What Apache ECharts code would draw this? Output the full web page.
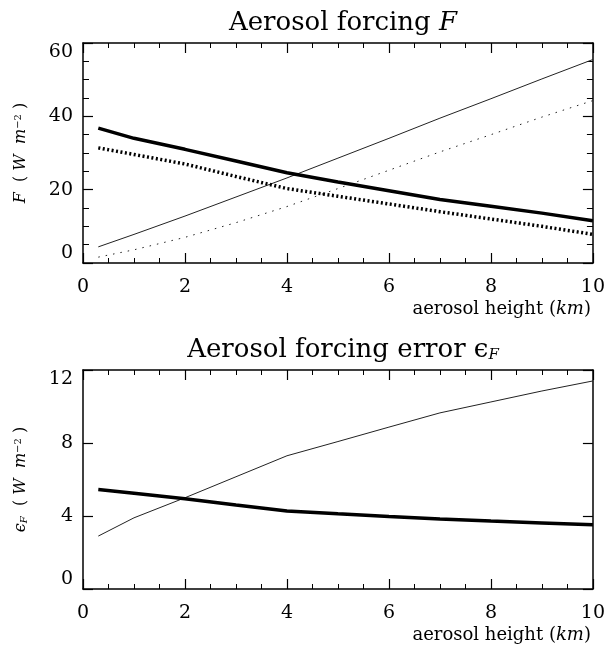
<!DOCTYPE html>
<html>
<head>
<meta charset="utf-8">
<script src="https://cdn.jsdelivr.net/npm/echarts@6/dist/echarts.min.js"></script>
<style>
  html, body { margin: 0; padding: 0; background: #fff; }
  #chart { width: 608px; height: 645px; }
</style>
</head>
<body>
<div id="chart"></div>
<script>
// aerosol heights (km)
var heights = [0.3, 1, 2, 3, 4, 5, 6, 7, 8, 9, 10];

// top panel: forcing F (W m-2)
var forcingThick = [36.8, 34.0, 31.0, 27.8, 24.6, 22.1, 19.7, 17.3, 15.5, 13.6, 11.5];
var forcingThickDot = [31.4, 29.6, 27.0, 23.6, 20.3, 18.2, 16.1, 14.0, 12.0, 10.0, 7.8];
var forcingThin = [4.4, 7.8, 12.8, 18.0, 23.2, 28.6, 34.0, 39.5, 44.8, 50.2, 55.5];
var forcingThinDot = [1.6, 3.6, 7.0, 11.0, 15.4, 20.3, 25.3, 30.3, 35.0, 39.8, 44.3];

// bottom panel: forcing error eps_F (W m-2)
var errorThick = [5.45, 5.25, 4.95, 4.6, 4.28, 4.12, 3.97, 3.83, 3.72, 3.62, 3.52];
var errorThin = [2.9, 3.9, 5.0, 6.15, 7.3, 8.08, 8.87, 9.65, 10.25, 10.85, 11.4];

var FONT = 'DejaVu Serif';

function pts(vals){
    return heights.map(function(h, i){ return [h, vals[i]]; });
}

var chart = echarts.init(document.getElementById('chart'));

function xAxisDef(grid, bottom){
    return {
        type: 'value', gridIndex: grid, min: 0, max: 10, interval: 2,
        position: bottom ? 'bottom' : 'top',
        axisLine: { show: true, onZero: false, lineStyle: { color: '#000', width: 1.5 } },
        axisTick: { show: true, inside: true, length: 10, lineStyle: { color: '#000', width: 1.2 } },
        minorTick: { show: true, splitNumber: 4, length: 5, lineStyle: { color: '#000', width: 1 } },
        splitLine: { show: false },
        axisLabel: { show: bottom, margin: 15, color: '#000', fontFamily: FONT, fontSize: 19 },
        name: bottom ? 'aerosol height ({k|km})' : '',
        nameLocation: 'end',
        nameGap: -2,
        nameTextStyle: {
            color: '#000', fontFamily: FONT, fontSize: 18,
            align: 'right', verticalAlign: 'top', padding: [37, 0, 0, 0],
            rich: { k: { fontFamily: FONT, fontSize: 18, fontStyle: 'italic', color: '#000' } }
        }
    };
}

function yAxisDef(grid, left, max, interval, minor, name){
    return {
        type: 'value', gridIndex: grid, min: 0, max: max, interval: interval,
        position: left ? 'left' : 'right',
        axisLine: { show: true, onZero: false, lineStyle: { color: '#000', width: 1.5 } },
        axisTick: { show: true, inside: true, length: 10, lineStyle: { color: '#000', width: 1.2 } },
        minorTick: { show: minor, splitNumber: 4, length: 6, lineStyle: { color: '#000', width: 1 } },
        splitLine: { show: false },
        axisLabel: {
            show: left, margin: 10, color: '#000', fontFamily: FONT, fontSize: 19,
            verticalAlignMaxLabel: 'top', verticalAlignMinLabel: 'bottom'
        },
        name: left ? name : '',
        nameLocation: 'middle',
        nameGap: 54,
        nameRotate: 90,
        nameTextStyle: {
            color: '#000', fontFamily: FONT, fontSize: 16,
            rich: {
                it: { fontFamily: FONT, fontSize: 16, fontStyle: 'italic', color: '#000' },
                sup: { fontFamily: FONT, fontSize: 10, verticalAlign: 'top', color: '#000' },
                sub: { fontFamily: FONT, fontSize: 10, fontStyle: 'italic', verticalAlign: 'bottom', color: '#000' }
            }
        }
    };
}

function line(xi, yi, vals, width, dash, color){
    return {
        type: 'line', xAxisIndex: xi, yAxisIndex: yi, data: pts(vals),
        symbol: 'none', smooth: false, animation: false, silent: true,
        lineStyle: { color: color, width: width, type: dash }
    };
}

var option = {
    backgroundColor: '#fff',
    animation: false,
    title: [
        {
            text: 'Aerosol forcing {it|F}',
            left: 338, textAlign: 'center', top: 5,
            textStyle: {
                fontFamily: FONT, fontSize: 26, fontWeight: 'normal', color: '#000',
                rich: { it: { fontFamily: FONT, fontSize: 26, fontStyle: 'italic', color: '#000' } }
            }
        },
        {
            text: 'Aerosol forcing error {e|ϵ}{s|F}',
            left: 338, textAlign: 'center', top: 332,
            textStyle: {
                fontFamily: FONT, fontSize: 26, fontWeight: 'normal', color: '#000',
                rich: {
                    e: { fontFamily: FONT, fontSize: 26, color: '#000' },
                    s: { fontFamily: FONT, fontSize: 15, fontStyle: 'italic', verticalAlign: 'bottom', color: '#000' }
                }
            }
        }
    ],
    grid: [
        { left: 83, top: 43, width: 510, height: 220 },
        { left: 83, top: 370, width: 510, height: 219 }
    ],
    xAxis: [
        xAxisDef(0, true),
        xAxisDef(0, false),
        xAxisDef(1, true),
        xAxisDef(1, false)
    ],
    yAxis: [
        yAxisDef(0, true, 60, 20, true, '{it|F}  ( {it|W}  {it|m}{sup|−2} )'),
        yAxisDef(0, false, 60, 20, true, ''),
        yAxisDef(1, true, 12, 4, false, '{it|ϵ}{sub|F}  ( {it|W}  {it|m}{sup|−2} )'),
        yAxisDef(1, false, 12, 4, false, '')
    ],
    series: [
        line(0, 0, forcingThin, 1, 'solid', '#222'),
        line(0, 0, forcingThinDot, 1, [1.5, 6], '#222'),
        line(0, 0, forcingThickDot, 3.5, [2, 2.5], '#000'),
        line(0, 0, forcingThick, 3.5, 'solid', '#000'),
        line(2, 2, errorThin, 1, 'solid', '#222'),
        line(2, 2, errorThick, 3.5, 'solid', '#000')
    ]
};

chart.setOption(option);
</script>
</body>
</html>
